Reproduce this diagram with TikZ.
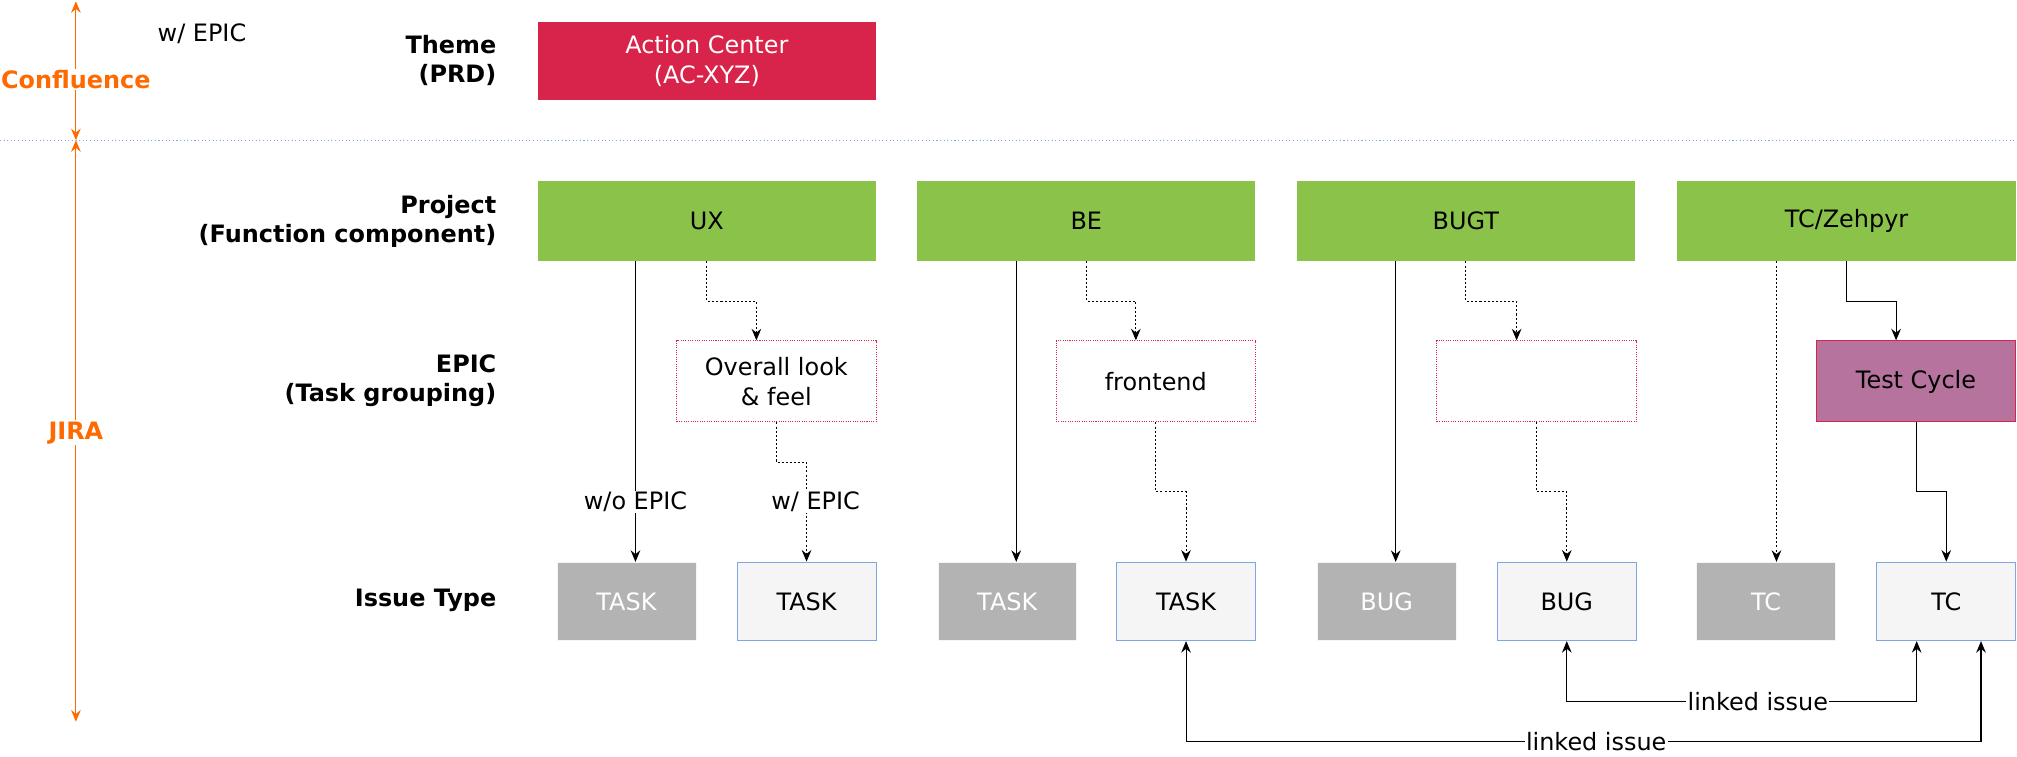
\documentclass[tikz,border=0pt]{standalone}
\usepackage{fontspec}
\setmainfont{DejaVu Sans}
\usetikzlibrary{arrows.meta,calc}
\definecolor{crim}{HTML}{D8234A}
\definecolor{grn}{HTML}{8BC34A}
\definecolor{purp}{HTML}{B5739D}
\definecolor{gbox}{HTML}{B3B3B3}
\definecolor{lbox}{HTML}{F5F5F5}
\definecolor{bluel}{HTML}{7EA6E0}
\definecolor{orng}{HTML}{FF6A00}
\newcommand{\fsz}{\fontsize{18.6}{23}\selectfont}
\tikzset{
  x=1pt,y=-1pt,
  base/.style={inner sep=0pt, align=center, font=\fsz},
  theme/.style={base, fill=crim, text=white, minimum width=263pt, minimum height=61pt},
  proj/.style={base, fill=grn, minimum width=263pt, minimum height=62pt},
  epicbox/.style={base, draw=crim, densely dotted, line width=0.8pt, minimum width=155pt, minimum height=63pt},
  tcycle/.style={base, draw=crim, fill=purp, line width=0.8pt, minimum width=155pt, minimum height=63pt},
  grayissue/.style={base, fill=gbox, draw=lbox, text=white, minimum width=108pt, minimum height=61pt},
  lightissue/.style={base, fill=lbox, draw=bluel, line width=0.8pt, minimum width=108pt, minimum height=61pt},
  rowlabel/.style={inner sep=0pt, align=right, anchor=east, font=\fsz\bfseries},
  tip/.style={-{Stealth[length=9pt,width=7.5pt,inset=3pt]}},
  conn/.style={tip, line width=0.8pt},
  dconn/.style={conn, dash pattern=on 1.6pt off 1.6pt},
  both/.style={{Stealth[length=9pt,width=7.5pt,inset=3pt]}-{Stealth[length=9pt,width=7.5pt,inset=3pt]}, line width=0.8pt},
  lab/.style={fill=white, inner sep=1pt, font=\fsz},
  olab/.style={fill=white, inner sep=1pt, font=\fsz\bfseries, text=orng},
}
\begin{document}
\begin{tikzpicture}
\useasboundingbox (0,0) rectangle (1568,588);

% separator
\draw[bluel, dotted, line width=0.8pt] (0,109) -- (1568,109);

% orange arrows
\coordinate (ctop) at (59,1);
\coordinate (cmid) at (59,109);
\coordinate (cbot) at (59,561);
\draw[both, orng] (ctop) -- node[olab, pos=0.565] (conf) {Confluence} (cmid);
\draw[both, orng] (cmid) -- node[olab, pos=0.503] (jira) {JIRA} (cbot);
\node[font=\fsz, inner sep=0pt] (wepictop) at (157,26) {w/ EPIC};

% row labels
\node[rowlabel] (lthm) at (386,47) {Theme\\(PRD)};
\node[rowlabel] (lprj) at (386,172) {Project\\(Function component)};
\node[rowlabel] (lepc) at (386,296) {EPIC\\(Task grouping)};
\node[rowlabel] (liss) at (386,467) {Issue Type};

% theme
\node[theme] (ac) at (549.5,47.5) {Action Center\\(AC-XYZ)};

% projects
\node[proj] (ux) at (549.5,172) {UX};
\node[proj] (be) at (844.5,172) {BE};
\node[proj] (bugt) at (1139.5,172) {BUGT};
\node[proj] (tcz) at (1435.5,172) {TC/Zehpyr};

% epics
\node[epicbox] (ov) at (603.5,296.5) {Overall look\\\& feel};
\node[epicbox] (fe) at (898.5,296.5) {frontend};
\node[epicbox] (ee) at (1194.5,296.5) {};
\node[tcycle] (tc) at (1489.5,296.5) {Test Cycle};

% issues
\node[grayissue] (g1) at (487,467.5) {TASK};
\node[lightissue] (l1) at (627,467.5) {TASK};
\node[grayissue] (g2) at (783,467.5) {TASK};
\node[lightissue] (l2) at (922,467.5) {TASK};
\node[grayissue] (g3) at (1078,467.5) {BUG};
\node[lightissue] (l3) at (1218,467.5) {BUG};
\node[grayissue] (g4) at (1373,467.5) {TC};
\node[lightissue] (l4) at (1513,467.5) {TC};

% UX column
\draw[conn] ([xshift=-55.5pt]ux.south) -- node[lab, pos=0.8] (wo) {w/o EPIC} ([xshift=7pt]g1.north);
\draw[dconn] (ux.south) -- ++(0,31) -| ([xshift=-15.5pt]ov.north);
\draw[dconn] (ov.south) -- ++(0,31) -| (l1.north);
\node[lab] (we) at (634,390) {w/ EPIC};

% BE column
\draw[conn] ([xshift=-54.5pt]be.south) -- ([xshift=7pt]g2.north);
\draw[dconn] (be.south) -- ++(0,31) -| ([xshift=-15.5pt]fe.north);
\draw[dconn] (fe.south) -- ++(0,54) -| (l2.north);

% BUGT column
\draw[conn] ([xshift=-54.5pt]bugt.south) -- ([xshift=7pt]g3.north);
\draw[dconn] (bugt.south) -- ++(0,31) -| ([xshift=-15.5pt]ee.north);
\draw[dconn] (ee.south) -- ++(0,54) -| (l3.north);

% TC column
\draw[dconn] ([xshift=-54.5pt]tcz.south) -- ([xshift=8pt]g4.north);
\draw[conn] (tcz.south) -- ++(0,31) -| ([xshift=-15.5pt]tc.north);
\draw[conn] (tc.south) -- ++(0,54) -| (l4.north);

% linked issues
\draw[both] (l3.south) -- ++(0,47) -| node[lab, pos=0.273] (li1) {linked issue} ([xshift=-23pt]l4.south);
\draw[both] (l2.south) -- ++(0,78) -| node[lab, pos=0.258] (li2) {linked issue} ([xshift=27pt]l4.south);
\end{tikzpicture}
\end{document}
